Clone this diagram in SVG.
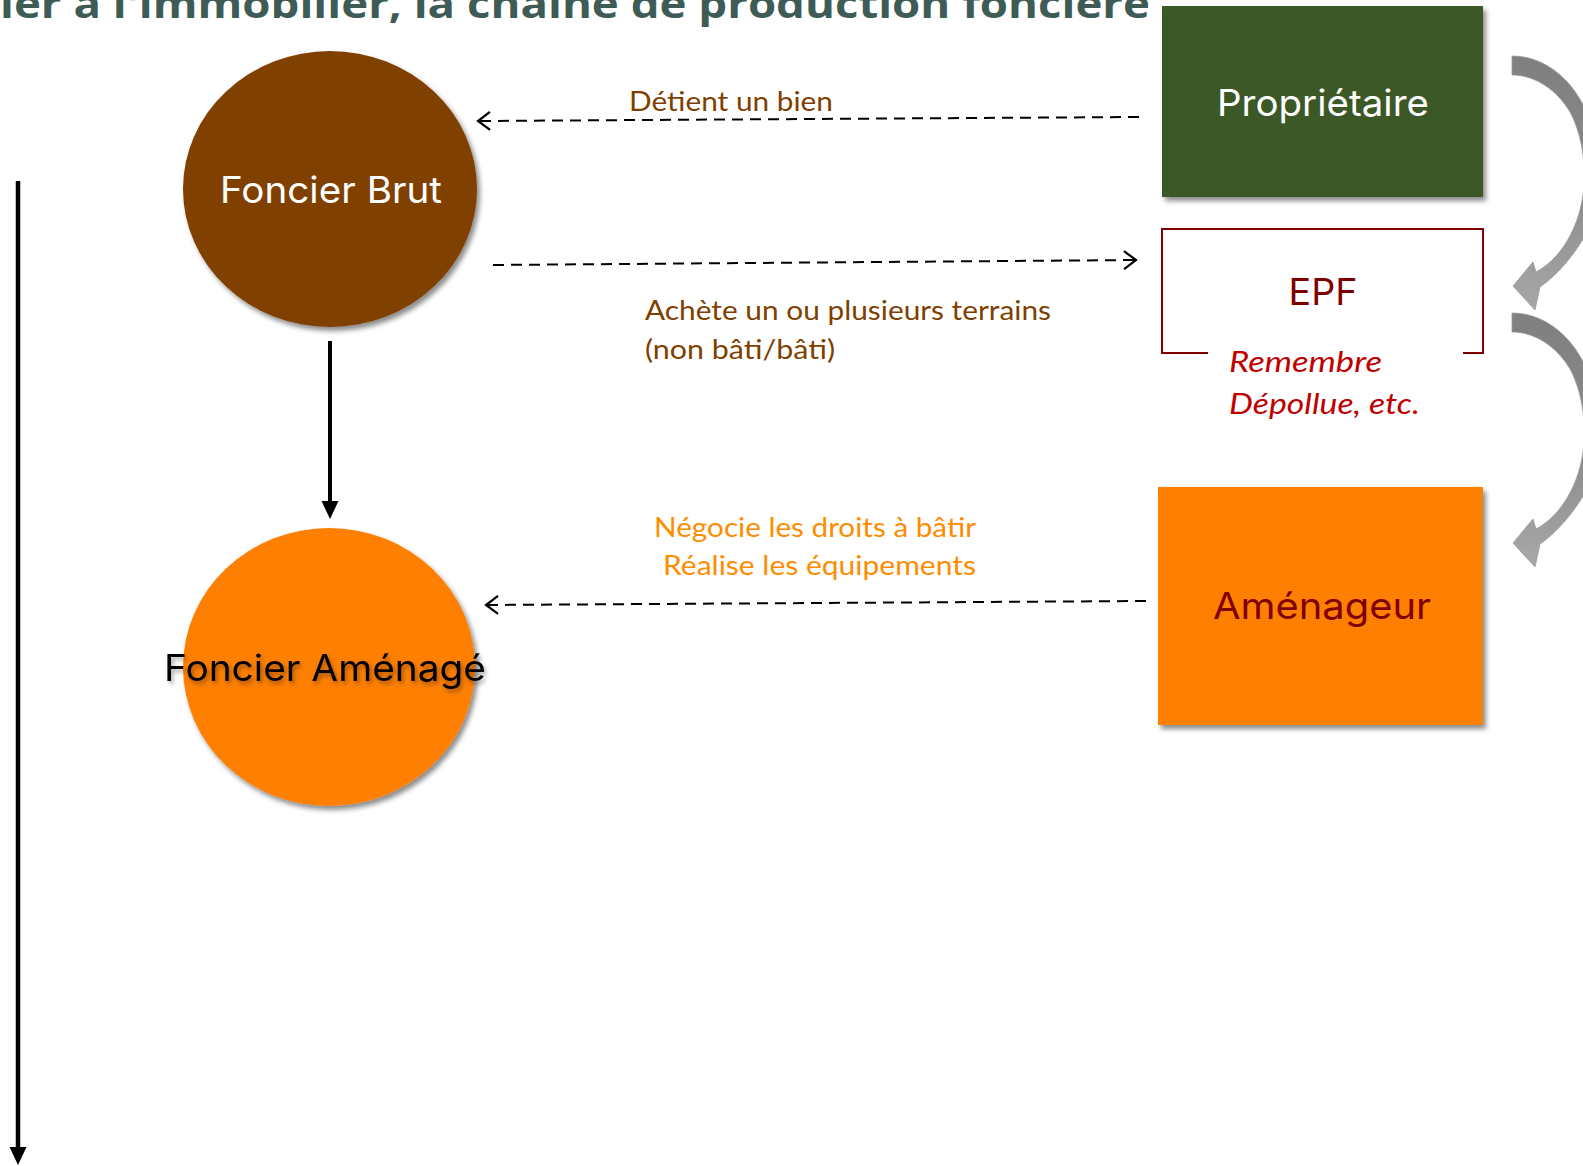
<svg xmlns="http://www.w3.org/2000/svg" width="1583" height="1166" viewBox="0 0 1583 1166">
  <defs>
    <style>
      .title { font-family: "Open Sans", "Liberation Sans", sans-serif; font-weight: 700; font-size: 40px; fill: #3e5c55; }
      .node-label { font-family: Inter, "Noto Sans", sans-serif; font-size: 37px; }
      .edge-label { font-family: Lato, "Liberation Sans", sans-serif; font-size: 27px; }
      .note { font-family: Lato, "Liberation Sans", sans-serif; font-size: 29px; font-style: italic; fill: #c00000; }
      .dashed { fill: none; stroke: #000; stroke-width: 2; stroke-dasharray: 11 7; }
      .solid { fill: none; stroke: #000; }
    </style>
    <filter id="shadow" x="-10%" y="-10%" width="125%" height="125%">
      <feDropShadow dx="3" dy="4" stdDeviation="2.5" flood-color="#000" flood-opacity="0.45"/>
    </filter>
    <filter id="textShadow" x="-10%" y="-30%" width="120%" height="170%">
      <feDropShadow dx="2" dy="3" stdDeviation="2" flood-color="#000" flood-opacity="0.35"/>
    </filter>
    <marker id="openHead" markerUnits="userSpaceOnUse" markerWidth="20" markerHeight="20" refX="0" refY="0" orient="auto" overflow="visible">
      <path d="M-12,-9 L0,0 L-12,9" fill="none" stroke="#000" stroke-width="2.2"/>
    </marker>
    <marker id="solidHead" markerUnits="userSpaceOnUse" markerWidth="24" markerHeight="24" refX="0" refY="0" orient="auto" overflow="visible">
      <path d="M-3,-8.5 L15,0 L-3,8.5 Z" fill="#000"/>
    </marker>
    <linearGradient id="curveFill" x1="0" y1="0" x2="0" y2="1">
      <stop offset="0" stop-color="#7f7f7f"/>
      <stop offset="0.55" stop-color="#8c8c8c"/>
      <stop offset="1" stop-color="#a8a8a8"/>
    </linearGradient>
    <!-- curved hand-over arrow between two actors on the right -->
    <path id="curvedArrow" d="M1512,56 C1545,56 1575,80 1590,120 C1605,165 1601,212 1585,236 C1572,258 1556,276 1540,287 L1535,310 L1513,286 L1533,262 L1536,272 C1555,262 1572,240 1580,210 C1588,180 1585,140 1570,112 C1557,90 1535,75 1512,75 Z" fill="url(#curveFill)" stroke="#9a9a9a" stroke-width="0.8"/>
  </defs>

  <rect width="1583" height="1166" fill="#fff"/>

  <!-- heading, running off the top edge -->
  <text class="title" x="0" y="18" textLength="1150" lengthAdjust="spacingAndGlyphs">ier à l'immobilier, la chaîne de production foncière</text>

  <!-- connectors -->
  <g id="connectors">
    <path class="solid" d="M18,181 L18,1150" stroke-width="4.5" marker-end="url(#solidHead)"/>
    <path class="solid" d="M330,341 L330,504" stroke-width="4" marker-end="url(#solidHead)"/>
    <path class="dashed" d="M1139,117 L478,121" marker-end="url(#openHead)"/>
    <path class="dashed" d="M493,265 L1136,260" marker-end="url(#openHead)"/>
    <path class="dashed" d="M1146,601 L486,605" marker-end="url(#openHead)"/>
    <use href="#curvedArrow"/>
    <use href="#curvedArrow" transform="translate(0,257)"/>

    <text class="edge-label" x="629" y="111" fill="#7f3f00" textLength="204" lengthAdjust="spacingAndGlyphs">Détient un bien</text>
    <text class="edge-label" x="645" y="320" fill="#7f3f00" textLength="406" lengthAdjust="spacingAndGlyphs">Achète un ou plusieurs terrains</text>
    <text class="edge-label" x="645" y="359" fill="#7f3f00" textLength="190" lengthAdjust="spacingAndGlyphs">(non bâti/bâti)</text>
    <text class="edge-label" x="654" y="537" fill="#ff8c00" textLength="322" lengthAdjust="spacingAndGlyphs">Négocie les droits à bâtir</text>
    <text class="edge-label" x="663" y="575" fill="#ff8c00" textLength="313" lengthAdjust="spacingAndGlyphs">Réalise les équipements</text>
  </g>

  <!-- land states -->
  <g id="foncier-brut">
    <ellipse cx="330" cy="189" rx="147" ry="138" fill="#7f3f00" filter="url(#shadow)"/>
    <text class="node-label" x="331" y="203" fill="#fff" text-anchor="middle" textLength="222" lengthAdjust="spacingAndGlyphs">Foncier Brut</text>
  </g>

  <g id="foncier-amenage">
    <ellipse cx="329" cy="667" rx="146" ry="139" fill="#ff7f00" filter="url(#shadow)"/>
    <text class="node-label" x="325" y="681" fill="#000" text-anchor="middle" textLength="322" lengthAdjust="spacingAndGlyphs" filter="url(#textShadow)">Foncier Aménagé</text>
  </g>

  <!-- actors -->
  <g id="proprietaire">
    <rect x="1162" y="6" width="321" height="191" fill="#3b5926" filter="url(#shadow)"/>
    <text class="node-label" x="1323" y="116" fill="#fff" text-anchor="middle" textLength="212" lengthAdjust="spacingAndGlyphs">Propriétaire</text>
  </g>

  <g id="epf">
    <path d="M1208,353 L1162,353 L1162,229 L1483,229 L1483,353 L1463,353" fill="none" stroke="#7f0000" stroke-width="2"/>
    <text class="node-label" x="1323" y="305" fill="#7f0000" text-anchor="middle" font-size="38" textLength="69" lengthAdjust="spacingAndGlyphs">EPF</text>
    <text class="note" x="1229" y="372" textLength="153" lengthAdjust="spacingAndGlyphs">Remembre</text>
    <text class="note" x="1229" y="414" textLength="191" lengthAdjust="spacingAndGlyphs">Dépollue, etc.</text>
  </g>

  <g id="amenageur">
    <rect x="1158" y="487" width="325" height="238" fill="#ff7f00" filter="url(#shadow)"/>
    <text class="node-label" x="1322" y="619" fill="#7f0000" text-anchor="middle" textLength="218" lengthAdjust="spacingAndGlyphs">Aménageur</text>
  </g>
</svg>
